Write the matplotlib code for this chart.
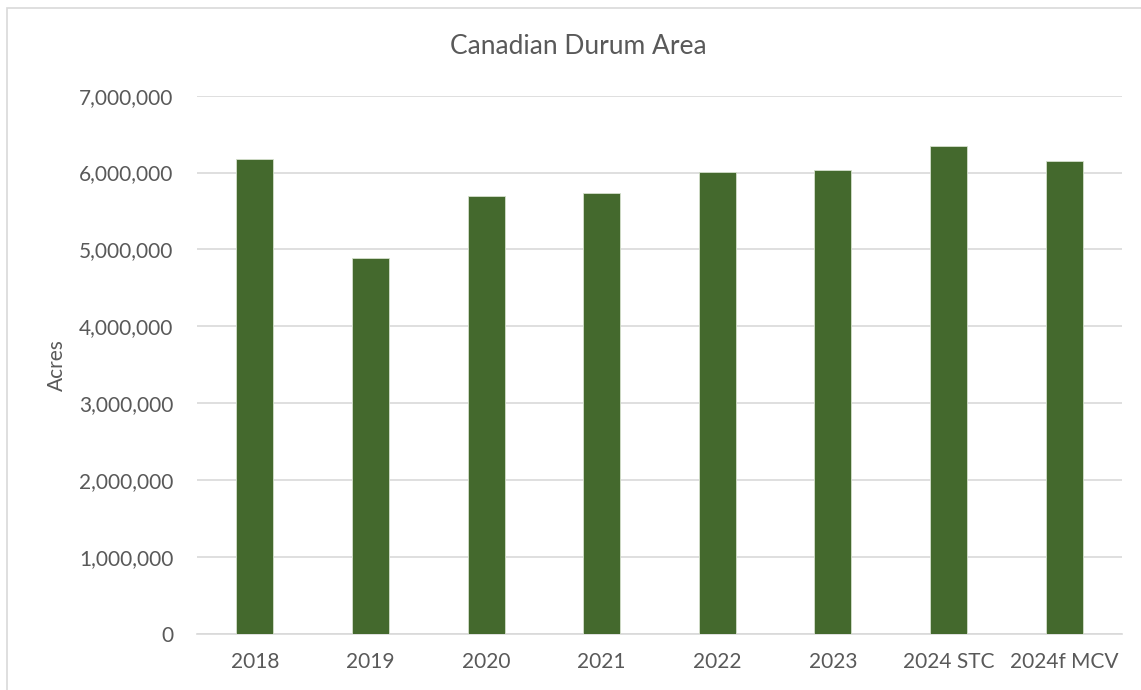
import matplotlib
matplotlib.use("Agg")
import matplotlib.pyplot as plt
from matplotlib.ticker import FuncFormatter, MultipleLocator
from matplotlib.patches import Rectangle

categories = ["2018", "2019", "2020", "2021", "2022", "2023", "2024 STC", "2024f MCV"]
acres = [6180000, 4890000, 5690000, 5730000, 6005000, 6035000, 6340000, 6150000]

plt.rcParams['font.family'] = ['Lato', 'DejaVu Sans']
text_color = '#595959'

fig = plt.figure(figsize=(11.41, 6.90), dpi=100)
ax = fig.add_axes([197/1141, 1-633.5/690, (1122-197)/1141, (633.5-95.7)/690])

x = range(len(categories))
ax.bar(x, acres, width=0.32, color='#44692D', edgecolor='#D5E0CC', linewidth=0.6, zorder=3)

ax.set_xlim(-0.5, len(categories) - 0.5)
ax.set_ylim(0, 7000000)
ax.yaxis.set_major_locator(MultipleLocator(1000000))
ax.yaxis.set_major_formatter(FuncFormatter(lambda v, p: f"{int(v):,}"))
ax.set_xticks(list(x))
ax.set_xticklabels(categories)

ax.grid(axis='y', color='#D9D9D9', linewidth=1.2, zorder=0)
for s in ['top', 'right', 'left']:
    ax.spines[s].set_visible(False)
ax.spines['bottom'].set_color('#D9D9D9')
ax.spines['bottom'].set_linewidth(1.2)
ax.tick_params(axis='both', length=0, labelsize=15, colors=text_color)
ax.tick_params(axis='y', pad=17)
ax.tick_params(axis='x', pad=13)

ax.set_ylabel("Acres", fontsize=15, color=text_color)
ax.yaxis.set_label_coords((67 - 197) / (1122 - 197), (633.5 - 365) / (633.5 - 95.7))
fig.text(578/1141, 1-46/690, "Canadian Durum Area", ha='center', va='center',
         fontsize=19, color=text_color)

# chart border
fig.patches.append(Rectangle((7/1141, -0.01), 1.1, 1-7.5/690 + 0.01, transform=fig.transFigure,
                             fill=False, edgecolor='#D9D9D9', linewidth=1.2))

fig.savefig("out.png", dpi=100, facecolor='white')
